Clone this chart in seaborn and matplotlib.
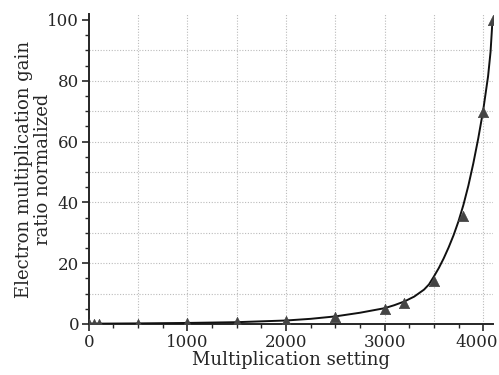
import numpy as np
import pandas as pd
import matplotlib
matplotlib.use("Agg")
import matplotlib.pyplot as plt
import matplotlib.transforms as mtransforms
from matplotlib.ticker import MultipleLocator
import seaborn as sns

# measured points (triangles)
setting = [0, 50, 100, 500, 1000, 1500, 2000, 2500, 3000, 3200, 3500, 3800, 4000, 4095]
gain = [0.1, 0.1, 0.1, 0.15, 0.3, 0.5, 1.0, 2.4, 4.9, 6.8, 14.2, 35.5, 69.6, 100.0]

# fitted curve
fit_x = [0, 500, 1000, 1500, 2000, 2250, 2500, 2750, 3000, 3100, 3200, 3300, 3400,
         3450, 3500, 3550, 3600, 3650, 3700, 3750, 3800, 3850, 3900, 3950, 4000,
         4050, 4075, 4095]
fit_y = [0.1, 0.2, 0.35, 0.6, 1.15, 1.7, 2.5, 3.7, 5.2, 6.2, 7.4, 9.0, 11.3,
         13.0, 15.6, 18.4, 21.6, 25.2, 29.2, 33.8, 39.2, 45.5, 52.8, 61.0, 70.2,
         81.5, 89.5, 100.0]

pts = pd.DataFrame({"setting": setting, "gain": gain})
fit = pd.DataFrame({"setting": fit_x, "gain": fit_y})

sns.set_style("ticks")
plt.rcParams["font.family"] = ["DejaVu Serif"]

fig = plt.figure(figsize=(4.99, 3.75), dpi=100)
ax = fig.add_axes([0.178, 0.136, 0.81, 0.827])

sns.lineplot(data=fit, x="setting", y="gain", color="#111111", linewidth=1.4, ax=ax, zorder=3)
sns.scatterplot(data=pts, x="setting", y="gain", marker="^", s=55, color="#444444",
                edgecolor="#444444", linewidth=0.5, ax=ax, zorder=4)

ax.set_xlim(0, 4100)
ax.set_ylim(0, 102)
ax.set_xticks([0, 1000, 2000, 3000, 4000])
ax.xaxis.set_minor_locator(MultipleLocator(250))
ax.yaxis.set_major_locator(MultipleLocator(20))
ax.yaxis.set_minor_locator(MultipleLocator(5))

for v in range(500, 4001, 500):
    ax.axvline(v, color="#bbbbbb", linestyle=(0, (1, 1.5)), linewidth=0.8, zorder=1)
for v in range(10, 100, 10):
    ax.axhline(v, color="#bbbbbb", linestyle=(0, (1, 1.5)), linewidth=0.8, zorder=1)

ax.tick_params(which="major", direction="out", length=5, width=1.2, labelsize=12, pad=2)
ax.tick_params(which="minor", direction="out", length=3, width=1.0)
sns.despine(ax=ax)
ax.spines["left"].set_linewidth(1.4)
ax.spines["bottom"].set_linewidth(1.4)

# last x label sits a little to the left so it stays inside the figure
last = ax.get_xticklabels()[-1]
last.set_transform(last.get_transform() +
                   mtransforms.ScaledTranslation(-6 / 100, 0, fig.dpi_scale_trans))

ax.set_xlabel("Multiplication setting", fontsize=13, labelpad=0)
ax.set_ylabel("Electron multiplication gain\nratio normalized", fontsize=13,
              multialignment="center", linespacing=1.1)
ax.yaxis.set_label_coords(-0.09, 0.5)

fig.savefig("out.png", dpi=100)
